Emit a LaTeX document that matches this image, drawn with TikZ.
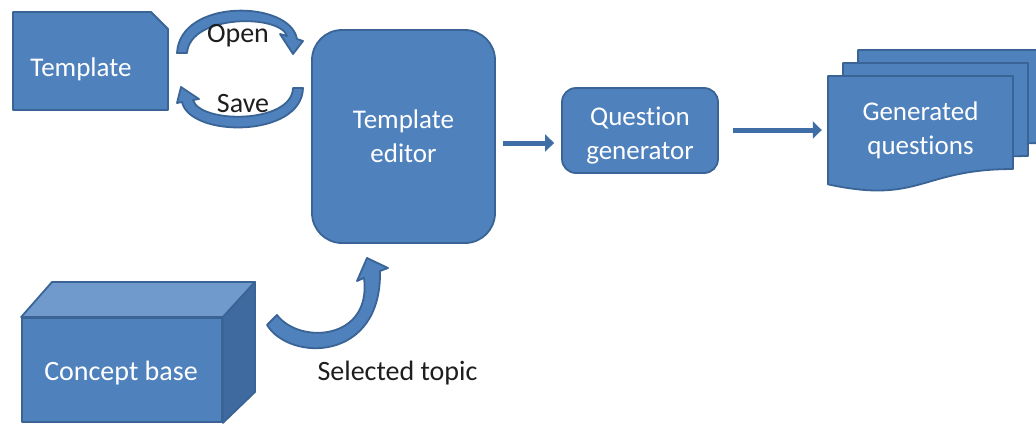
\documentclass[tikz,border=0pt]{standalone}
\usepackage{fontspec}
\setmainfont{Carlito}[Ligatures=NoCommon]
\usetikzlibrary{arrows.meta}
\definecolor{pfill}{HTML}{4F81BD}
\definecolor{pline}{HTML}{3A6496}
\definecolor{ptop}{HTML}{7099CC}
\definecolor{pside}{HTML}{3E6AA0}
\definecolor{arrowc}{HTML}{3F6EA6}
\definecolor{lbl}{HTML}{1E1E1E}
\newcommand\gqdoc[4]{%
  \draw[shapefill] (#1,#2) -- (#1+#3,#2) -- (#1+#3,#2+0.802*#4)
    .. controls (#1+0.5*#3,#2+0.802*#4) and (#1+0.5*#3,#2+1.107*#4) .. (#1,#2+0.934*#4) -- cycle;}
\begin{document}
\begin{tikzpicture}[x=1pt,y=-1pt,
  shapefill/.style={fill=pfill,draw=pline,line width=1.8pt,line join=round},
  boxtext/.style={text=white,font=\fontsize{27}{34}\selectfont,align=center},
  lbltext/.style={text=lbl,font=\fontsize{28}{34}\selectfont},
  flowarrow/.style={draw=arrowc,line width=5pt,-{Triangle[length=9pt,width=17pt]}},
  ]
\useasboundingbox (0,0) rectangle (1036,426);
\clip (0,0) rectangle (1036,426);
\fill[white] (0,0) rectangle (1036,426);

% Template (snipped corner)
\draw[shapefill] (13,12) -- (151,12) -- (168,29) -- (168,110) -- (13,110) -- cycle;
\node[boxtext,anchor=base] (tpl) at (81,76) {Template};

% Template editor
\node[shapefill,rounded corners=30pt,minimum width=183pt,minimum height=213pt,boxtext]
  (te) at (403.5,136.5) {Template\\editor};

% Question generator
\node[shapefill,rounded corners=14pt,minimum width=156pt,minimum height=85pt]
  (qg) at (640,130.5) {};
\node[boxtext] (qgt) at (640,136) {Question\\generator};

% Generated questions (multi-document)
\gqdoc{858}{50}{185}{116}
\gqdoc{843}{63}{185}{116}
\gqdoc{828}{76}{185}{116}
\node[boxtext,minimum width=185pt,minimum height=108pt] (gq) at (920.5,130) {Generated\\questions};

% Concept base (cube)
\node[shapefill,minimum width=200pt,minimum height=104pt] (cb) at (122,370) {};
\draw[shapefill,fill=ptop] (cb.north west) -- (52,282) -- (255,282) -- (cb.north east) -- cycle;
\draw[shapefill,fill=pside] (cb.north east) -- (255,282) -- (255,392) -- (cb.south east) -- cycle;
\node[boxtext,anchor=base,font=\fontsize{28}{34}\selectfont] (cbt) at (121,380) {Concept base};

% Open / Save curved arrows
\draw[shapefill] (177,53) .. controls (180,-2) and (290,0) .. (297,39) -- (303,41) -- (293,54)
  -- (280,34) -- (287,36) .. controls (280,14) and (190,14) .. (187,53) -- cycle;
\draw[shapefill] (303,88) .. controls (302,138) and (190,138) .. (182,102) -- (177,103) -- (181,87)
  -- (199,99) -- (193,100) .. controls (200,124) and (292,124) .. (293,88) -- cycle;
\node[lbltext,anchor=base] (open) at (238,42) {Open};
\node[lbltext,anchor=base] (save) at (243,112) {Save};

% Selected topic curved arrow
\draw[shapefill] (267,325) .. controls (290,362) and (382,362) .. (380,271) -- (388,268) -- (367,258)
  -- (357,281) -- (364,278) .. controls (372,340) and (300,345) .. (277,315) -- cycle;
\node[lbltext,anchor=base] (sel) at (397.5,380) {Selected topic};

% straight arrows
\draw[flowarrow] ([xshift=7pt,yshift=-6.5pt]te.east) -- ([xshift=-7pt,yshift=-12.5pt]qg.west);
\draw[flowarrow] ([xshift=14pt,yshift=0.5pt]qg.east) -- ([xshift=-6pt]gq.west);
\end{tikzpicture}
\end{document}
